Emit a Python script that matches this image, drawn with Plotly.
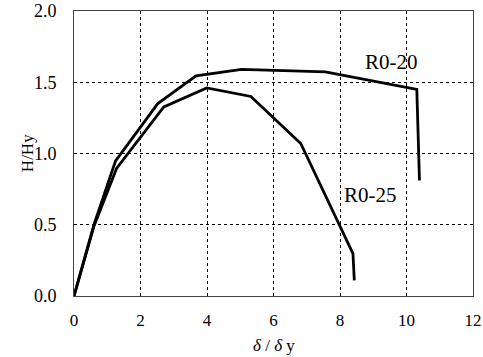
import plotly.graph_objects as go

r020_x = [0, 0.6, 1.25, 2.52, 3.67, 5.04, 7.56, 10.31, 10.39]
r020_y = [0, 0.50, 0.948, 1.35, 1.545, 1.59, 1.573, 1.45, 0.81]
r025_x = [0, 0.6, 1.28, 2.70, 3.99, 5.32, 6.82, 8.39, 8.43]
r025_y = [0, 0.49, 0.895, 1.327, 1.46, 1.40, 1.07, 0.298, 0.11]

x_ticks = [0, 2, 4, 6, 8, 10, 12]
y_ticks = [0.0, 0.5, 1.0, 1.5, 2.0]
y_ticklabels = ["0.0", "0.5", "1.0", "1.5", "2.0"]

labels = ["R0-20", "R0-25"]
label_x = [9.55, 8.92]
label_y = [1.64, 0.71]

font = "Liberation Serif"

fig = go.Figure()
for xs, ys in [(r020_x, r020_y), (r025_x, r025_y)]:
    fig.add_trace(go.Scatter(x=xs, y=ys, mode="lines",
                             line=dict(color="black", width=2.8),
                             showlegend=False, hoverinfo="skip"))

for t, lx, ly in zip(labels, label_x, label_y):
    fig.add_annotation(x=lx, y=ly, text=t, showarrow=False,
                       font=dict(family=font, size=21, color="black"))

# axis titles as paper annotations
fig.add_annotation(x=0.5, y=-0.135, xref="paper", yref="paper", yanchor="top",
                   text="<i>δ</i> / <i>δ</i> y", showarrow=False,
                   font=dict(family=font, size=17, color="black"))
fig.add_annotation(x=-0.145, y=0.5, xref="paper", yref="paper",
                   text="H/Hy", textangle=-90, showarrow=False,
                   font=dict(family=font, size=17, color="black"))

fig.update_layout(
    width=483, height=357,
    margin=dict(l=74, r=10, t=11, b=61),
    paper_bgcolor="white", plot_bgcolor="white",
    font=dict(family=font, size=17, color="black"),
)
fig.update_xaxes(
    range=[0, 12], tickvals=x_ticks, ticktext=[str(v) for v in x_ticks],
    showgrid=True, gridcolor="black", griddash="dot", gridwidth=1,
    showline=True, linecolor="#444", linewidth=1, mirror=True,
    zeroline=False, ticks="", ticklabelstandoff=9, automargin=False,
    tickfont=dict(family=font, size=17),
)
fig.update_yaxes(
    range=[0, 2], tickvals=y_ticks, ticktext=y_ticklabels,
    showgrid=True, gridcolor="black", griddash="dot", gridwidth=1,
    showline=True, linecolor="#444", linewidth=1, mirror=True,
    zeroline=False, ticks="", ticklabelstandoff=13, automargin=False,
    tickfont=dict(family=font, size=18),
)

fig.write_html("out.html", config={"displayModeBar": False},
               post_script="document.body.style.margin='0';document.body.style.padding='0';")
